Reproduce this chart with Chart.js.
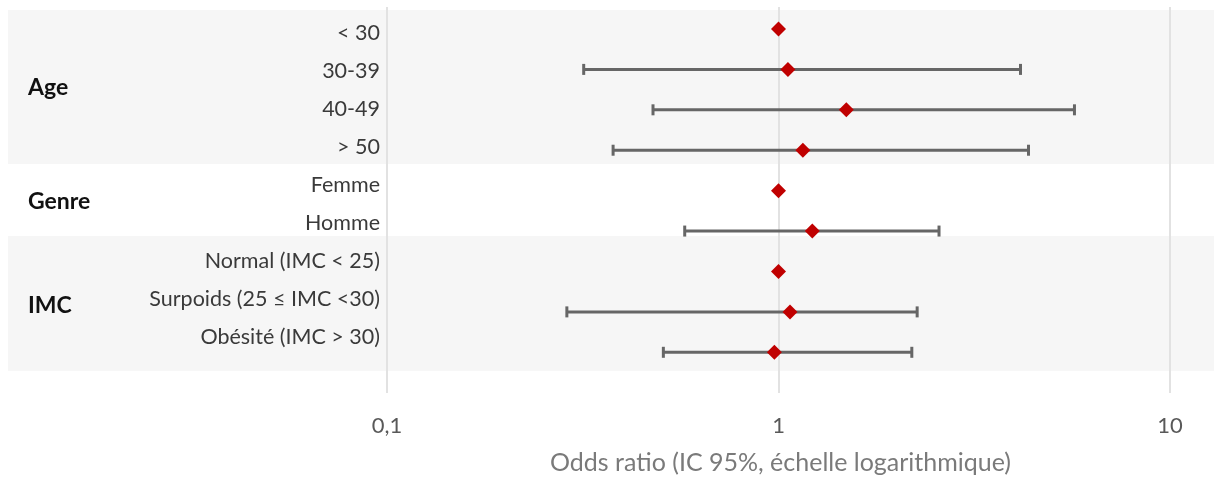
<!DOCTYPE html>
<html>
<head>
<meta charset="utf-8">
<script src="https://cdn.jsdelivr.net/npm/chart.js@4.4.1/dist/chart.umd.min.js"></script>
<style>
  html, body { margin: 0; padding: 0; background: #ffffff; }
  #wrap { width: 1214px; height: 477px; position: relative; }
</style>
</head>
<body>
<div id="wrap"><canvas id="c"></canvas></div>
<script>
// ---- data ----
const categories = ['< 30', '30-39', '40-49', '> 50', 'Femme', 'Homme',
  'Normal (IMC < 25)', 'Surpoids (25 ≤ IMC <30)', 'Obésité (IMC > 30)'];
const groups = ['Age', 'Genre', 'IMC'];
const oddsRatio = [1, 1.057, 1.49, 1.154, 1, 1.22, 1, 1.07, 0.976];
const ciLow  = [null, 0.318, 0.478, 0.378, null, 0.576, null, 0.288, 0.508];
const ciHigh = [null, 4.15, 5.70, 4.35, null, 2.57, null, 2.26, 2.19];
const xTicks = [0.1, 1, 10];
const xTitle = 'Odds ratio (IC 95%, échelle logarithmique)';

// ---- style ----
const FONT = 'Lato, "Open Sans", sans-serif';
const RED = '#c00000';
const BAR = '#666666';

const datasets = [];
datasets.push({
  type: 'scatter',
  label: 'OR',
  data: oddsRatio.map((v, i) => ({ x: v, y: i })),
  pointStyle: 'rectRot',
  pointRadius: 7.5,
  pointHoverRadius: 7.5,
  backgroundColor: RED,
  borderColor: RED,
  borderWidth: 0,
  order: 0
});
categories.forEach((c, i) => {
  if (ciLow[i] == null) return;
  datasets.push({
    type: 'line',
    label: c,
    data: [{ x: ciLow[i], y: i }, { x: ciHigh[i], y: i }],
    borderColor: BAR,
    borderWidth: 3,
    pointRadius: 0,
    fill: false,
    order: 2
  });
});
datasets.push({
  type: 'scatter',
  label: 'caps',
  data: categories.flatMap((c, i) => ciLow[i] == null ? [] :
    [{ x: ciLow[i], y: i }, { x: ciHigh[i], y: i }]),
  pointStyle: 'line',
  rotation: 90,
  pointRadius: 5.5,
  pointHoverRadius: 5.5,
  borderColor: BAR,
  borderWidth: 3,
  order: 1
});

const bandsPlugin = {
  id: 'bands',
  beforeDraw(chart) {
    const { ctx, scales: { y } } = chart;
    ctx.save();
    ctx.fillStyle = '#f6f6f6';
    const bands = [[-0.47, 3.34], [5.12, 8.46]];
    bands.forEach(([a, b]) => {
      const y0 = y.getPixelForValue(a), y1 = y.getPixelForValue(b);
      ctx.fillRect(8, y0, chart.width - 8, y1 - y0);
    });
    ctx.restore();
  }
};

const labelsPlugin = {
  id: 'rowLabels',
  afterDraw(chart) {
    const { ctx, scales: { x, y } } = chart;
    ctx.save();
    ctx.textBaseline = 'middle';
    ctx.textAlign = 'right';
    ctx.fillStyle = '#3a3a3a';
    ctx.font = '21.5px ' + FONT;
    categories.forEach((c, i) => {
      ctx.fillText(c, 380, y.getPixelForValue(0.1 + 0.9404 * i));
    });
    ctx.textAlign = 'left';
    ctx.fillStyle = '#111111';
    ctx.font = 'bold 23px ' + FONT;
    const gpos = [1.46, 4.27, 6.855];
    groups.forEach((g, k) => {
      ctx.fillText(g, 28, y.getPixelForValue(gpos[k]));
    });
    // axis title, centred under OR = 1
    ctx.textAlign = 'center';
    ctx.fillStyle = '#7a7a7a';
    ctx.font = '25px ' + FONT;
    ctx.fillText(xTitle, x.getPixelForValue(1) + 2, x.bottom - 14);
    ctx.restore();
  }
};

new Chart(document.getElementById('c'), {
  data: { datasets },
  plugins: [bandsPlugin, labelsPlugin],
  options: {
    responsive: true,
    maintainAspectRatio: false,
    animation: false,
    layout: { autoPadding: false, padding: { top: 7, left: 0, right: 0, bottom: 0 } },
    plugins: { legend: { display: false }, tooltip: { enabled: false } },
    scales: {
      x: {
        type: 'logarithmic',
        min: 0.01027,
        max: 12.95,
        afterBuildTicks(scale) { scale.ticks = xTicks.map(v => ({ value: v })); },
        afterFit(scale) {
          scale.height = 84;
          scale.paddingLeft = 0;
          scale.paddingRight = 0;
        },
        grid: { color: '#e2e2e2', lineWidth: 2, drawTicks: false },
        border: { display: false },
        ticks: {
          padding: 20,
          color: '#595959',
          font: { family: FONT, size: 22 },
          autoSkip: false,
          maxRotation: 0,
          callback: v => String(v).replace('.', ',')
        },
        title: { display: false }
      },
      y: {
        type: 'linear',
        display: false,
        reverse: true,
        min: -0.544,
        max: 9.007
      }
    }
  }
});
</script>
</body>
</html>
